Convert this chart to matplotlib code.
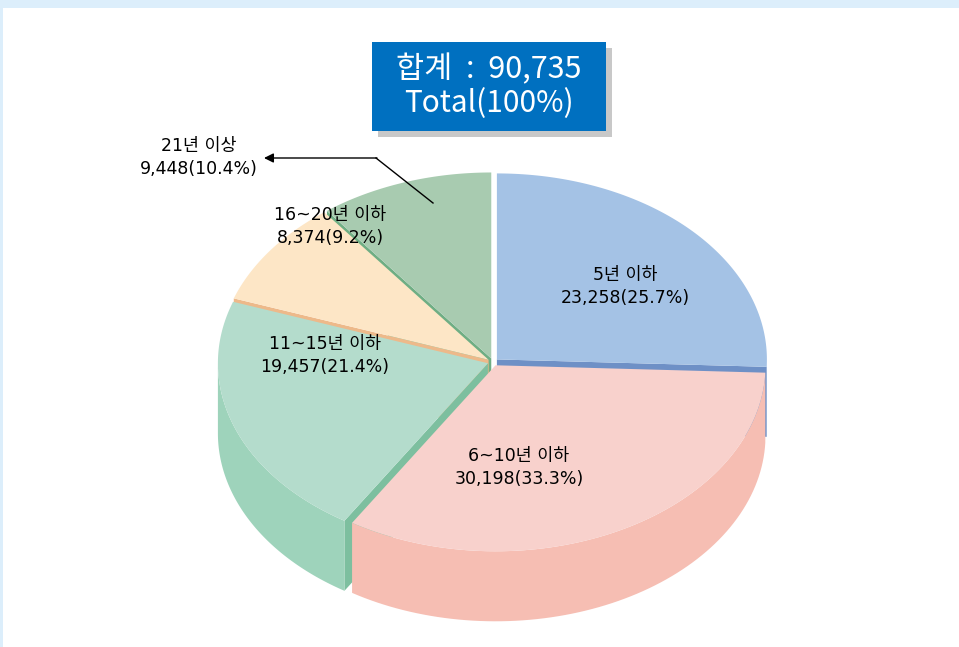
import numpy as np
import matplotlib
matplotlib.use("Agg")
import matplotlib.pyplot as plt
from matplotlib.patches import Polygon, Rectangle

plt.rcParams['font.family'] = ['Noto Sans CJK KR', 'DejaVu Sans']

# data
categories = ["5년 이하", "6~10년 이하", "11~15년 이하", "16~20년 이하", "21년 이상"]
counts = [23258, 30198, 19457, 8374, 9448]
shares = [25.7, 33.3, 21.4, 9.2, 10.4]

# colours: top face, outer wall, cut face
top_colors = ["#A4C2E5", "#F8D1CC", "#B4DCCC", "#FDE6C6", "#A8CBB0"]
side_colors = ["#8FAFDC", "#F6BEB3", "#9ED3BB", "#F3CFA3", "#8FBE9C"]
cut_colors = ["#6E90C6", "#EFA99C", "#7DBF9F", "#EDB98A", "#6FAE84"]

# label centres (pixels)
label_pos = [(625, 286), (519, 467), (325, 355), (330, 226), (199, 157)]

fig = plt.figure(figsize=(9.59, 6.47), dpi=100)
ax = fig.add_axes([0, 0, 1, 1])
ax.set_xlim(0, 959)
ax.set_ylim(647, 0)
ax.axis("off")

# light blue frame
ax.add_patch(Rectangle((0, 0), 959, 8, facecolor="#DCEEFB", edgecolor="none"))
ax.add_patch(Rectangle((0, 0), 3, 647, facecolor="#DCEEFB", edgecolor="none"))

# pie geometry (pixels)
cx, cy, rx, ry, depth = 493, 362, 270, 186, 70
explode = 0.02


def pt(t, r, dx, dy, z=0.0):
    t = np.radians(t)
    return cx + dx + r * rx * np.cos(t), cy + dy - r * ry * np.sin(t) + z


total = sum(counts)
spans = [c / total * 360 for c in counts]
starts = 90 - np.concatenate([[0], np.cumsum(spans)[:-1]])

slices = []
for i, sp in enumerate(spans):
    t1 = starts[i]
    t2 = t1 - sp
    m = np.radians((t1 + t2) / 2)
    dx = explode * rx * np.cos(m)
    dy = -explode * ry * np.sin(m)
    slices.append((i, t1, t2, dx, dy, np.sin(m)))

# walls, back slices first
for i, t1, t2, dx, dy, s in sorted(slices, key=lambda v: -v[5]):
    # radial cut faces that face the viewer
    for a, normal in ((t1, t1 + 90), (t2, t2 - 90)):
        if np.sin(np.radians(normal)) < 0:
            p0 = pt(a, 0, dx, dy)
            p1 = pt(a, 1, dx, dy)
            p2 = pt(a, 1, dx, dy, depth)
            p3 = pt(a, 0, dx, dy, depth)
            ax.add_patch(Polygon([p0, p1, p2, p3], closed=True,
                                 facecolor=cut_colors[i], edgecolor="none"))
    # outer wall on the front half
    for k in (-1, 0, 1):
        lo = max(t2, -180 + 360 * k)
        hi = min(t1, 360 * k)
        if hi - lo <= 0:
            continue
        ts = np.linspace(lo, hi, 80)
        upper = [pt(t, 1, dx, dy) for t in ts]
        lower = [pt(t, 1, dx, dy, depth) for t in ts[::-1]]
        ax.add_patch(Polygon(upper + lower, closed=True,
                             facecolor=side_colors[i], edgecolor="none"))

# top faces
for i, t1, t2, dx, dy, s in slices:
    ts = np.linspace(t1, t2, 120)
    verts = [pt(0, 0, dx, dy)] + [pt(t, 1, dx, dy) for t in ts]
    ax.add_patch(Polygon(verts, closed=True, facecolor=top_colors[i],
                         edgecolor="none"))

# labels
label_font = ['DejaVu Sans', 'Noto Sans CJK KR']
for name, c, sh, (lx, ly) in zip(categories, counts, shares, label_pos):
    ax.text(lx, ly - 11, name, ha="center", va="center", fontsize=12.5,
            color="black", family=label_font)
    ax.text(lx, ly + 12, f"{c:,}({sh}%)", ha="center", va="center",
            fontsize=12.5, color="black", family=label_font)

# leader arrow for the small slice
ax.plot([433, 376], [203, 158], color="black", lw=1)
ax.annotate("", xy=(264, 158), xytext=(377, 158),
            arrowprops=dict(arrowstyle="-|>", color="black", lw=1,
                            mutation_scale=14, shrinkA=0, shrinkB=0))

# total box
ax.add_patch(Rectangle((378, 48), 234, 89, facecolor="#C8C8C8", edgecolor="none"))
ax.add_patch(Rectangle((372, 42), 234, 89, facecolor="#0070C0", edgecolor="none"))
ax.text(489, 70, f"합계  :  {total:,}", ha="center", va="center", fontsize=22,
        color="white")
ax.text(489, 104, "Total(100%)", ha="center", va="center", fontsize=21.5,
        color="white")

fig.savefig("out.png", dpi=100)
